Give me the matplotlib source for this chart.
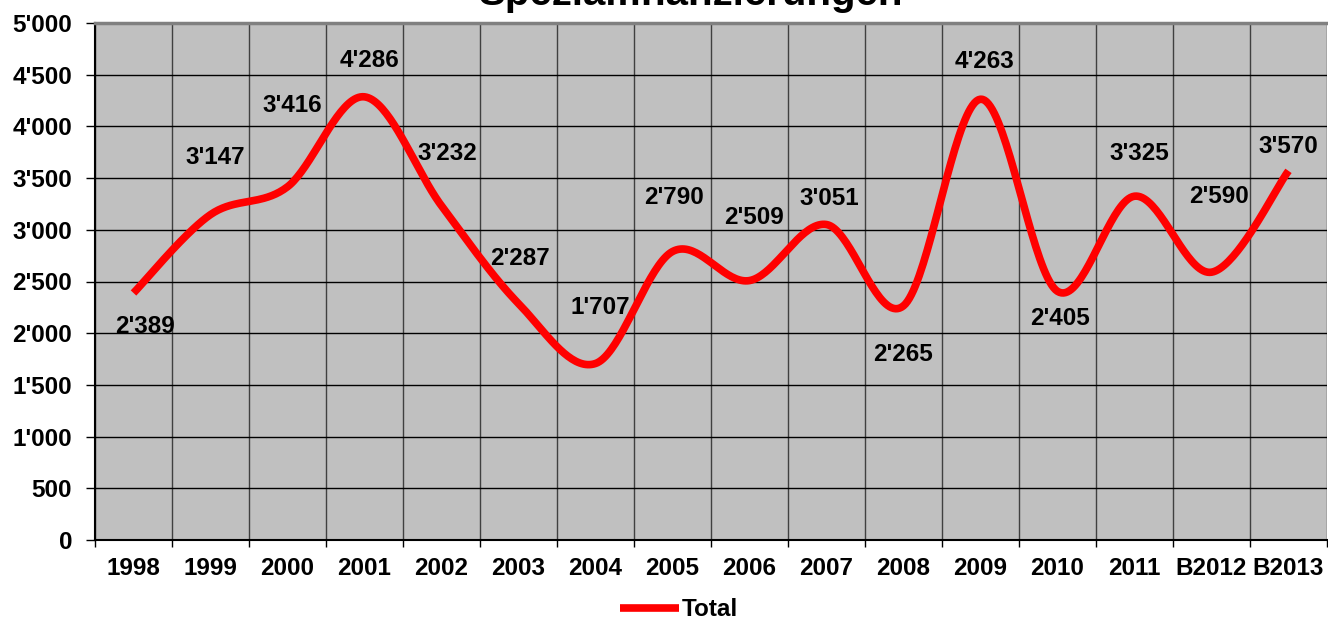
import numpy as np
import matplotlib.pyplot as plt
from matplotlib.ticker import FuncFormatter

plt.rcParams['font.family'] = ['Liberation Sans', 'DejaVu Sans']
plt.rcParams['font.weight'] = 'bold'

years = ["1998", "1999", "2000", "2001", "2002", "2003", "2004", "2005",
         "2006", "2007", "2008", "2009", "2010", "2011", "B2012", "B2013"]
total = [2389, 3147, 3416, 4286, 3232, 2287, 1707, 2790,
         2509, 3051, 2265, 4263, 2405, 3325, 2590, 3570]
# label offsets (x in categories, y in value units)
label_dx = [0.15, 0.06, 0.06, 0.07, 0.08, 0.02, 0.06, 0.02,
            0.06, 0.03, 0.0, 0.05, 0.03, 0.06, 0.1, 0.0]
label_dy = [-320, 550, 790, 350, 510, 440, 545, 525,
            610, 250, -475, 365, -260, 415, 735, 240]

FS = 17.5


def fmt(v, pos=None):
    return f"{int(v):,}".replace(",", "'")


def smooth(x, y, n=40):
    # Catmull-Rom style bezier, like Excel's smoothed line
    x = np.asarray(x, float)
    y = np.asarray(y, float)
    px = np.concatenate([[x[0]], x, [x[-1]]])
    py = np.concatenate([[y[0]], y, [y[-1]]])
    xs, ys = [], []
    t = np.linspace(0, 1, n)
    for i in range(1, len(px) - 2):
        p0 = np.array([px[i], py[i]])
        p3 = np.array([px[i + 1], py[i + 1]])
        c1 = p0 + (p3 - np.array([px[i - 1], py[i - 1]])) / 6
        c2 = p3 - (np.array([px[i + 2], py[i + 2]]) - p0) / 6
        pts = ((1 - t) ** 3)[:, None] * p0 + (3 * (1 - t) ** 2 * t)[:, None] * c1 \
            + (3 * (1 - t) * t ** 2)[:, None] * c2 + (t ** 3)[:, None] * p3
        xs.extend(pts[:, 0])
        ys.extend(pts[:, 1])
    return xs, ys


fig = plt.figure(figsize=(13.28, 6.2), dpi=100)
ax = fig.add_axes([95 / 1328, 80 / 620, 1232 / 1328, 517 / 620])
ax.set_facecolor("#c0c0c0")

x = np.arange(len(years))
sx, sy = smooth(x, total)
ax.plot(sx, sy, color="#ff0000", lw=5.5, solid_capstyle="butt", label="Total", zorder=3)

for i, v in enumerate(total):
    ax.text(x[i] + label_dx[i], v + label_dy[i], fmt(v), ha="center", va="center",
            fontsize=FS, fontweight="bold", zorder=4)

ax.set_xlim(-0.5, len(years) - 0.5)
ax.set_ylim(0, 5000)
ax.set_yticks(np.arange(0, 5001, 500))
ax.yaxis.set_major_formatter(FuncFormatter(fmt))
ax.set_xticks(np.arange(-0.5, len(years), 1))
ax.set_xticklabels([])
ax.set_xticks(x, minor=True)
ax.set_xticklabels(years, minor=True)
ax.tick_params(axis="x", which="minor", length=0, pad=12, labelsize=FS)
ax.tick_params(axis="x", which="major", length=5, width=1, direction="out", color="black")
ax.tick_params(axis="y", length=6.5, width=1, direction="out", pad=10, labelsize=FS)
for lab in ax.get_xticklabels(minor=True) + ax.get_yticklabels():
    lab.set_fontweight("bold")

ax.grid(axis="y", color="black", lw=1)
ax.grid(axis="x", which="major", color="#404040", lw=1)
ax.set_axisbelow(True)
ax.spines["top"].set_color("#808080")
ax.spines["top"].set_linewidth(2.5)
ax.spines["right"].set_visible(False)
ax.spines["left"].set_linewidth(1.5)
ax.spines["bottom"].set_linewidth(1.5)

fig.text(0.52, 1 - 5 / 620, "Spezialfinanzierungen", ha="center", va="baseline",
         fontsize=29, fontweight="bold")
fig.legend(loc="center", bbox_to_anchor=(679 / 1328, 1 - 610 / 620), frameon=False,
           prop={"size": FS, "weight": "bold"}, handlelength=2.4, handletextpad=0.1)

fig.savefig("out.png", dpi=100)
